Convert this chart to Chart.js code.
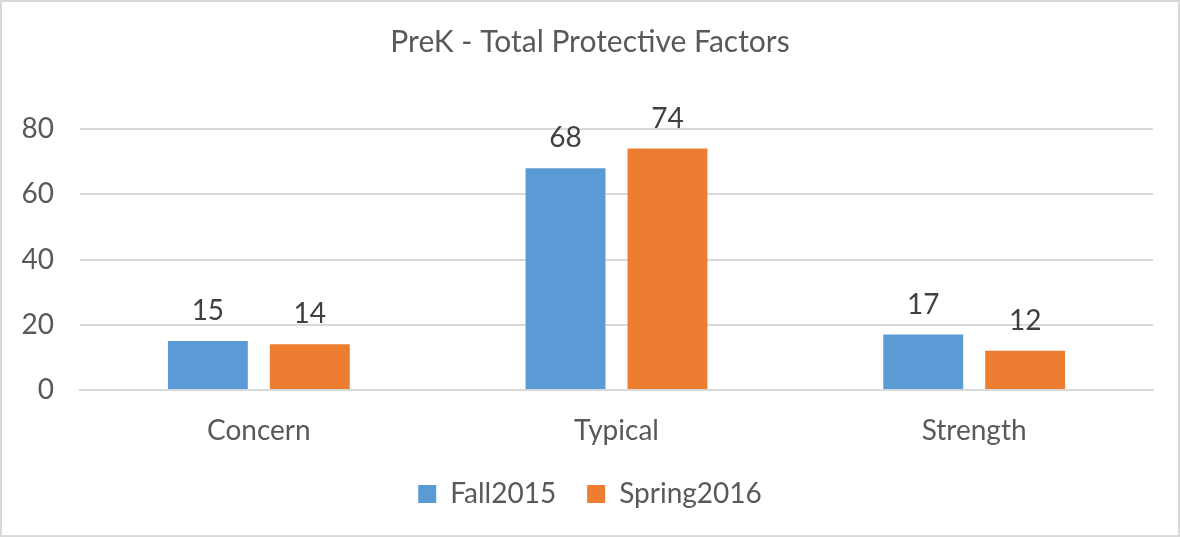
<!DOCTYPE html>
<html>
<head>
<meta charset="utf-8">
<script src="https://cdn.jsdelivr.net/npm/chart.js@4/dist/chart.umd.min.js"></script>
<style>
html,body{margin:0;padding:0;background:#fff;}
#wrap{width:1180px;height:537px;position:relative;}
</style>
</head>
<body>
<div id="wrap"><canvas id="c" width="1180" height="537"></canvas></div>
<script>
const categories = ["Concern", "Typical", "Strength"];
const fall2015 = [15, 68, 17];
const spring2016 = [14, 74, 12];
const yTicks = [0, 20, 40, 60, 80];
const titleText = "PreK - Total Protective Factors";
const seriesNames = ["Fall2015", "Spring2016"];

const FONT = "Lato, 'Open Sans', sans-serif";

const frame = {
  id: 'frame',
  beforeDraw(chart) {
    const ctx = chart.ctx;
    ctx.save();
    ctx.fillStyle = '#fff';
    ctx.fillRect(0, 0, chart.width, chart.height);
    ctx.strokeStyle = '#d9d9d9';
    ctx.lineWidth = 2;
    ctx.strokeRect(1, 1, chart.width - 2, chart.height - 2);
    ctx.restore();
  }
};

const labels = {
  id: 'labels',
  afterDatasetsDraw(chart) {
    const ctx = chart.ctx;
    ctx.save();
    ctx.font = "28px " + FONT;
    ctx.fillStyle = '#404040';
    ctx.textAlign = 'center';
    ctx.textBaseline = 'middle';
    chart.data.datasets.forEach((ds, i) => {
      chart.getDatasetMeta(i).data.forEach((bar, j) => {
        ctx.fillText(String(ds.data[j]), bar.x, bar.y - 30);
      });
    });
    ctx.restore();
  }
};

new Chart(document.getElementById('c'), {
  type: 'bar',
  data: {
    labels: categories,
    datasets: [
      { label: seriesNames[0], data: fall2015, backgroundColor: '#5B9BD5', categoryPercentage: 0.57, barPercentage: 0.784 },
      { label: seriesNames[1], data: spring2016, backgroundColor: '#ED7D31', categoryPercentage: 0.57, barPercentage: 0.784 }
    ]
  },
  options: {
    responsive: false,
    animation: false,
    devicePixelRatio: 1,
    layout: { padding: { left: 0, right: 0, top: 0, bottom: 19 } },
    plugins: {
      title: {
        display: true,
        text: titleText,
        color: '#595959',
        font: { family: FONT, size: 30, weight: 'normal' },
        padding: { top: 24, bottom: 69 }
      },
      legend: {
        position: 'bottom',
        labels: {
          color: '#595959',
          font: { family: FONT, size: 28 },
          boxWidth: 18,
          boxHeight: 18,
          padding: 31
        }
      },
      tooltip: { enabled: false }
    },
    scales: {
      x: {
        grid: { display: false, drawTicks: false },
        border: { display: true, color: '#d9d9d9', width: 2 },
        ticks: { color: '#595959', font: { family: FONT, size: 28 }, padding: 24 },
        afterFit(s) { s.height = 59; }
      },
      y: {
        min: 0, max: 80,
        afterBuildTicks(s) { s.ticks = yTicks.map(v => ({ value: v })); },
        grid: { color: '#d9d9d9', lineWidth: 2, drawTicks: false },
        border: { display: false },
        ticks: { color: '#595959', font: { family: FONT, size: 28 }, padding: 26 },
        afterFit(s) { s.width = 80; }
      },
      yRight: {
        position: 'right',
        min: 0, max: 80,
        grid: { display: false, drawTicks: false },
        border: { display: false },
        ticks: { display: false },
        afterFit(s) { s.width = 27; }
      }
    }
  },
  plugins: [frame, labels]
});
</script>
</body>
</html>
